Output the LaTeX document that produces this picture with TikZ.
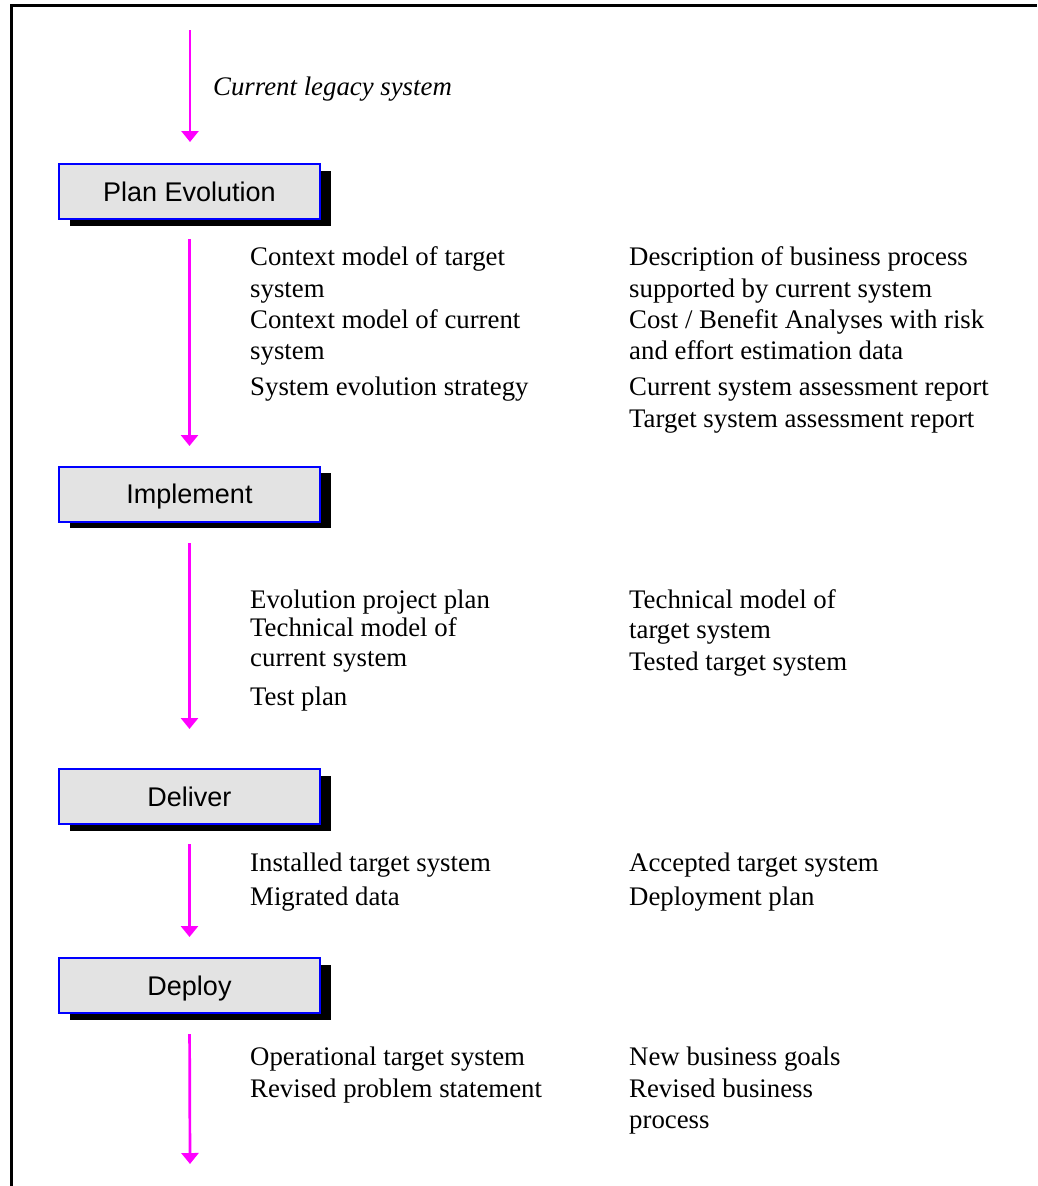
\documentclass[tikz,border=0pt]{standalone}
\usepackage{fontspec}
\setmainfont{Liberation Serif}
\newfontfamily\boxfont{Liberation Sans}
\usetikzlibrary{arrows.meta,shadows}
\definecolor{flowmagenta}{RGB}{255,0,255}
\definecolor{stagefill}{RGB}{227,227,227}
\definecolor{stageblue}{RGB}{0,0,255}

\begin{document}
\begin{tikzpicture}[x=1pt,y=-1pt,
  stage/.style={draw=stageblue, line width=2pt, fill=stagefill,
    minimum width=261pt, minimum height=55pt, inner sep=0pt,
    text height=19.3pt, text depth=0pt,
    font=\boxfont\fontsize{27}{30}\selectfont,
    general shadow={fill=black, shadow xshift=11pt, shadow yshift=-6.5pt}},
  flow/.style={draw=flowmagenta, line width=2.7pt,
    -{Triangle[width=17pt,length=11pt]}},
  item/.style={anchor=base west, inner sep=0pt,
    font=\fontsize{26.8}{31}\selectfont},
  note/.style={item, font=\itshape\fontsize{26.8}{31}\selectfont},
]
\useasboundingbox (0,0) rectangle (1037,1186);

% open frame: top and left rules
\draw[line width=3.3pt] (11.7,1186) -- (11.7,5.7) -- (1037,5.7);

% process stages
\node[stage] (plan)   at (189.5,191.5) {Plan Evolution};
\node[stage] (impl)   at (189.5,494)   {Implement};
\node[stage] (deliv)  at (189.5,796.5) {Deliver};
\node[stage] (deploy) at (189.5,985.5) {Deploy};

% flow between stages
\coordinate (start) at (190,30);
\coordinate (finish) at (190,1164);
\draw[flow, shorten >=21pt] (start) -- (start |- plan.north);
\draw[flow, shorten <=19pt, shorten >=19.5pt] (plan.south) -- (impl.north);
\draw[flow, shorten <=20.5pt, shorten >=39pt] (impl.south) -- (deliv.north);
\draw[flow, shorten <=19pt, shorten >=20pt] (deliv.south) -- (deploy.north);
\draw[flow, shorten <=20pt] (deploy.south) -- (finish);

% input
\node[note] (legacy) at (213,95) {Current legacy system};

% Plan Evolution outputs
\node[item] (p1) at (250,265) {Context model of target};
\node[item] (p2) at (250,297) {system};
\node[item] (p3) at (250,328) {Context model of current};
\node[item] (p4) at (250,359) {system};
\node[item] (p5) at (250,395) {System evolution strategy};
\node[item] (q1) at (629,265) {Description of business process};
\node[item] (q2) at (629,297) {supported by current system};
\node[item] (q3) at (629,328) {Cost / Benefit Analyses with risk};
\node[item] (q4) at (629,359) {and effort estimation data};
\node[item] (q5) at (629,395) {Current system assessment report};
\node[item] (q6) at (629,427) {Target system assessment report};

% Implement outputs
\node[item] (i1) at (250,608) {Evolution project plan};
\node[item] (i2) at (250,636) {Technical model of};
\node[item] (i3) at (250,666) {current system};
\node[item] (i4) at (250,705) {Test plan};
\node[item] (j1) at (629,608) {Technical model of};
\node[item] (j2) at (629,638) {target system};
\node[item] (j3) at (629,670) {Tested target system};

% Deliver outputs
\node[item] (d1) at (250,871) {Installed target system};
\node[item] (d2) at (250,905) {Migrated data};
\node[item] (e1) at (629,871) {Accepted target system};
\node[item] (e2) at (629,905) {Deployment plan};

% Deploy outputs
\node[item] (r1) at (250,1065) {Operational target system};
\node[item] (r2) at (250,1097) {Revised problem statement};
\node[item] (s1) at (629,1065) {New business goals};
\node[item] (s2) at (629,1097) {Revised business};
\node[item] (s3) at (629,1128) {process};
\end{tikzpicture}
\end{document}
